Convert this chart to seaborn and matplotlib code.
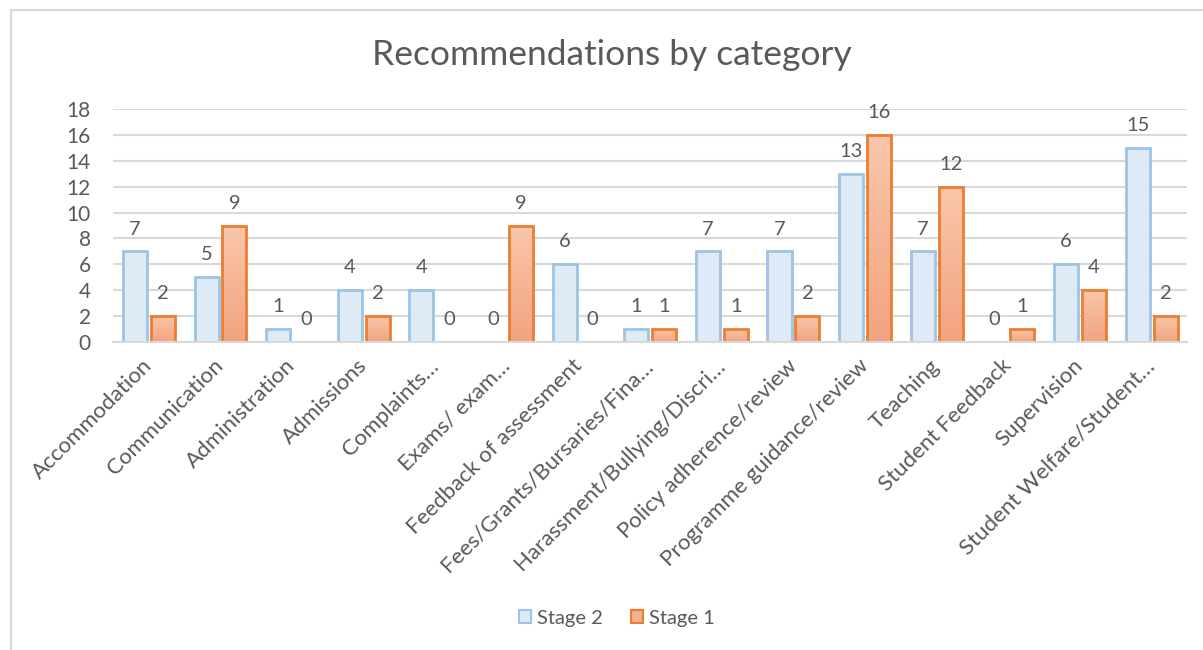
import matplotlib
matplotlib.use("Agg")
import matplotlib.pyplot as plt
import seaborn as sns
import pandas as pd
import numpy as np
from matplotlib.lines import Line2D
from matplotlib.patches import Patch
from matplotlib.colors import LinearSegmentedColormap

categories = ["Accommodation", "Communication", "Administration", "Admissions",
              "Complaints…", "Exams/ exam…", "Feedback of assessment",
              "Fees/Grants/Bursaries/Fina…", "Harassment/Bullying/Discri…",
              "Policy adherence/review", "Programme guidance/review", "Teaching",
              "Student Feedback", "Supervision", "Student Welfare/Student…"]
stage2 = [7, 5, 1, 4, 4, 0, 6, 1, 7, 7, 13, 7, 0, 6, 15]
stage1 = [2, 9, 0, 2, 0, 9, 0, 1, 1, 2, 16, 12, 1, 4, 2]
series_names = ["Stage 2", "Stage 1"]
yticks = list(range(0, 19, 2))

df = pd.DataFrame({
    "category": categories * 2,
    "value": stage2 + stage1,
    "series": [series_names[0]] * len(categories) + [series_names[1]] * len(categories),
})

sns.set_theme(style="white")
plt.rcParams['font.family'] = ['Lato', 'DejaVu Sans']
TXT = "#595959"

fig = plt.figure(figsize=(12.03, 6.5), dpi=100)
ax = fig.add_axes([0.094, 0.474, 0.893, 0.358])

blue_fill, blue_edge = "#DEEBF7", "#9DC3E6"
orange_fill, orange_edge = "#F5B293", "#ED7D31"

sns.barplot(data=df, x="category", y="value", hue="series", hue_order=series_names,
            palette=[blue_fill, orange_fill], width=0.78, gap=0.14, ax=ax,
            legend=False, saturation=1, zorder=3)

edges = [blue_edge, orange_edge]
for cont, ec in zip(ax.containers, edges):
    for p in cont.patches:
        p.set_edgecolor(ec)
        p.set_linewidth(2)
        if p.get_height() == 0:
            p.set_linewidth(0)
    ax.bar_label(cont, labels=[f"{int(v.get_height())}" for v in cont.patches],
                 padding=10, color=TXT, fontsize=14.5)

# gradient on orange bars
grad = np.linspace(0, 1, 100).reshape(-1, 1)
cmap = LinearSegmentedColormap.from_list("og", ["#F3A37F", "#F8C7AB"])
for p in ax.containers[1].patches:
    if p.get_height() > 0:
        x0, y0 = p.get_x(), p.get_y()
        w, h = p.get_width(), p.get_height()
        im = ax.imshow(grad, extent=[x0, x0 + w, y0, y0 + h], origin="lower",
                       cmap=cmap, aspect="auto", zorder=3.1)
        im.set_clip_path(p)
        p.set_facecolor("none")
        p.set_zorder(3.2)

ax.set_xlim(-0.5, len(categories) - 0.5)
ax.set_ylim(0, 18)
ax.set_yticks(yticks)
ax.set_yticklabels([str(t) for t in yticks], color=TXT, fontsize=15)
ax.set_xlabel("")
ax.set_ylabel("")
ax.grid(axis="y", color="#D9D9D9", linewidth=1.5, zorder=0)
ax.set_axisbelow(True)
for s in ["left", "right", "top"]:
    ax.spines[s].set_visible(False)
ax.spines["bottom"].set_color("#D9D9D9")
ax.spines["bottom"].set_linewidth(1.5)
ax.spines["bottom"].set_zorder(5)
ax.tick_params(axis="y", length=0, pad=16)
ax.tick_params(axis="x", length=0, pad=15)
plt.setp(ax.get_xticklabels(), rotation=45, ha="right", va="center",
         rotation_mode="anchor", color=TXT, fontsize=16)

fig.text(0.509, 0.915, "Recommendations by category", ha="center", va="center",
         fontsize=25.5, color=TXT)

handles = [Patch(facecolor=blue_fill, edgecolor=blue_edge, linewidth=1.5),
           Patch(facecolor=orange_fill, edgecolor=orange_edge, linewidth=1.5)]
fig.legend(handles, series_names, loc="center", bbox_to_anchor=(0.513, 0.049), ncol=2,
           frameon=False, fontsize=14.5, labelcolor=TXT, handlelength=0.6,
           handleheight=0.6, handletextpad=0.3, columnspacing=1.4)

# chart border (left and top)
fig.add_artist(Line2D([0.0091, 0.0091], [0.0, 0.984], color="#D9D9D9", linewidth=1.5))
fig.add_artist(Line2D([0.0091, 1.0], [0.984, 0.984], color="#D9D9D9", linewidth=1.5))

fig.savefig("out.png", dpi=100)
